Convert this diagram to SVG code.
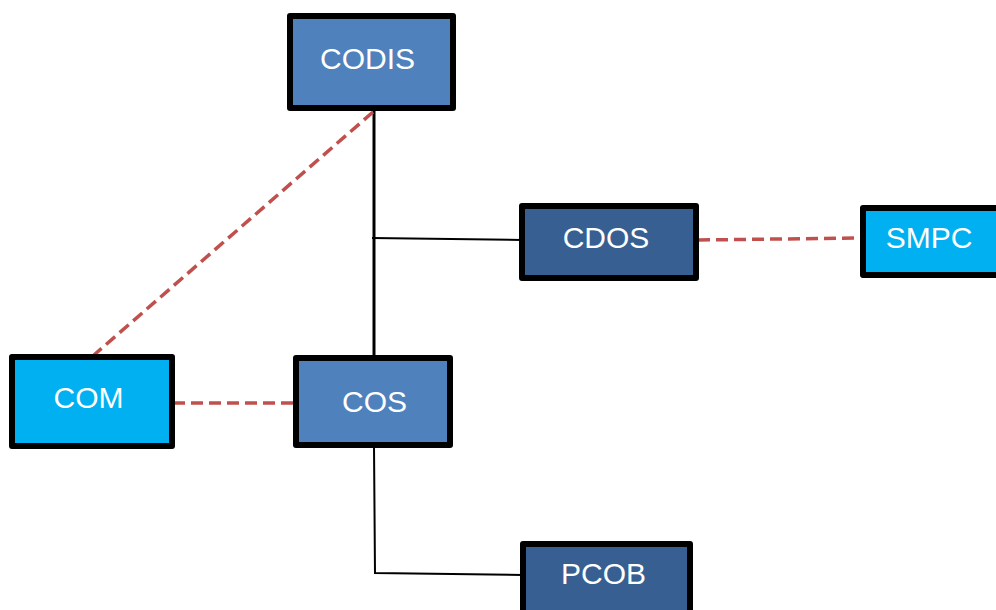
<svg xmlns="http://www.w3.org/2000/svg" width="996" height="610" viewBox="0 0 996 610">
  <style>
    .box { stroke: #000; stroke-width: 6; stroke-linejoin: round; }
    .mid { fill: #4F81BD; }
    .dark { fill: #375F91; }
    .light { fill: #00B0F0; }
    .label { font-family: "Liberation Sans", Arial, sans-serif; font-size: 30px; fill: #fff; text-anchor: middle; }
    .tree { stroke: #000; fill: none; }
    .dash { stroke: #C0504D; stroke-width: 3.5; stroke-dasharray: 12 6; fill: none; }
  </style>
  <rect width="996" height="610" fill="#fff"/>

  <g id="connectors">
    <line class="tree" x1="374" y1="110" x2="374" y2="357" stroke-width="3"/>
    <line class="tree" x1="372" y1="238" x2="522" y2="240" stroke-width="2"/>
    <polyline class="tree" points="374,446 375,573 523,575" stroke-width="2"/>
    <line class="dash" x1="373" y1="112" x2="94" y2="355"/>
    <line class="dash" x1="173" y1="403" x2="296" y2="403"/>
    <line class="dash" x1="698" y1="240" x2="862" y2="238"/>
  </g>

  <g id="codis">
    <rect class="box mid" x="290" y="16" width="163" height="92"/>
    <text class="label" x="367.5" y="69">CODIS</text>
  </g>
  <g id="cdos">
    <rect class="box dark" x="522" y="206" width="174" height="72"/>
    <text class="label" x="606" y="248">CDOS</text>
  </g>
  <g id="smpc">
    <rect class="box light" x="863" y="208" width="145" height="67"/>
    <text class="label" x="929" y="248">SMPC</text>
  </g>
  <g id="com">
    <rect class="box light" x="12" y="357" width="160" height="89"/>
    <text class="label" x="88.5" y="408">COM</text>
  </g>
  <g id="cos">
    <rect class="box mid" x="296" y="358" width="154" height="87"/>
    <text class="label" x="374.5" y="412">COS</text>
  </g>
  <g id="pcob">
    <rect class="box dark" x="523" y="544" width="167" height="75"/>
    <text class="label" x="603.5" y="584">PCOB</text>
  </g>
</svg>
